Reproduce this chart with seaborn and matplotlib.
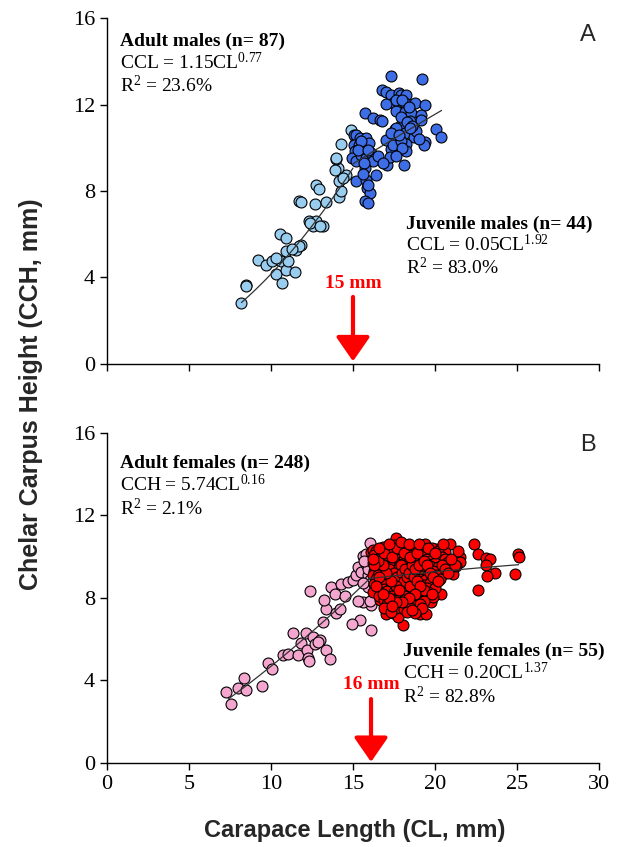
import numpy as np
import pandas as pd
import seaborn as sns
import matplotlib.pyplot as plt

# ---- data (CL, CCH in mm) ----
jm_pts = [(8.19, 2.82), (8.50, 3.67), (8.45, 3.62), (9.19, 4.82), (9.72, 4.56),
          (10.06, 4.78), (10.33, 4.16), (10.65, 3.74), (10.63, 4.75), (10.93, 4.36),
          (11.04, 4.75), (10.53, 6.01), (10.89, 5.82), (10.93, 5.21), (11.46, 4.25),
          (11.54, 5.29), (11.85, 5.52), (11.71, 5.44), (12.30, 6.59), (12.56, 6.36),
          (12.72, 6.63), (13.17, 6.36), (11.71, 7.52), (11.85, 7.47), (12.66, 7.40),
          (13.33, 7.49), (12.76, 8.29), (12.91, 8.09), (14.15, 7.70), (14.25, 7.98),
          (14.59, 8.75), (14.15, 8.47), (14.09, 9.06), (13.98, 9.49), (13.88, 8.98),
          (14.90, 10.83), (14.29, 10.17), (13.95, 9.54), (10.30, 4.90), (11.30, 5.30),
          (12.40, 6.50), (13.00, 6.40), (14.40, 8.60), (15.20, 10.30)]

am_pts = [(17.30, 13.30), (19.19, 13.19), (16.79, 12.68), (17.03, 12.57), (17.34, 12.45),
          (17.78, 12.53), (17.95, 12.42), (18.25, 12.42), (17.44, 12.06), (17.03, 12.02),
          (17.85, 11.99), (18.15, 12.06), (18.76, 12.05), (19.37, 11.96), (17.64, 11.71),
          (18.15, 11.65), (18.56, 11.60), (19.17, 11.53), (19.13, 11.29), (15.71, 11.60),
          (16.22, 11.37), (16.63, 11.29), (16.79, 11.25), (18.46, 11.25), (17.95, 11.03),
          (17.54, 10.88), (17.64, 10.91), (18.15, 10.68), (18.70, 10.52), (20.08, 10.88),
          (20.39, 10.48), (17.74, 10.45), (17.24, 10.37), (16.99, 10.37), (17.50, 9.98),
          (17.34, 9.95), (18.25, 10.17), (18.25, 9.83), (19.37, 10.26), (19.31, 10.11),
          (15.04, 10.60), (15.20, 10.60), (15.41, 10.45), (15.81, 10.45), (15.04, 10.14),
          (15.37, 10.14), (15.10, 9.83), (14.96, 9.52), (15.20, 9.37), (15.51, 9.68),
          (15.81, 9.52), (16.12, 9.75), (16.22, 9.40), (15.71, 9.06), (15.65, 9.29),
          (16.38, 8.75), (15.16, 8.44), (15.81, 8.52), (15.85, 8.14), (16.02, 7.90),
          (15.71, 7.52), (15.91, 7.44), (17.07, 9.21), (18.09, 9.21), (17.24, 9.55),
          (17.44, 10.14), (17.95, 10.29), (18.86, 10.76), (17.6, 12.2), (18.0, 12.2),
          (18.4, 11.9), (17.9, 11.4), (18.3, 11.2), (18.6, 11.0), (17.3, 10.7),
          (17.8, 10.6), (18.0, 10.0), (17.6, 9.6), (16.0, 10.2), (15.5, 10.3),
          (15.3, 9.9), (15.9, 9.9), (16.5, 9.6), (15.6, 8.8), (15.9, 8.3),
          (16.8, 9.3), (19.0, 10.4), (18.5, 10.9)]

jf_pts = [(7.28, 3.44), (7.58, 2.88), (7.99, 3.63), (8.33, 4.12), (8.50, 3.55),
          (9.47, 3.73), (9.82, 4.86), (10.06, 4.57), (10.73, 5.22), (11.04, 5.30),
          (11.34, 6.30), (11.65, 5.22), (11.85, 5.82), (12.11, 6.30), (12.20, 5.46),
          (12.26, 5.10), (12.32, 4.94), (12.56, 6.11), (12.66, 5.75), (12.97, 5.94),
          (12.87, 5.86), (13.17, 6.83), (13.37, 7.48), (13.21, 7.88), (13.33, 5.46),
          (13.62, 5.04), (12.40, 8.34), (13.68, 8.53), (13.88, 8.21), (13.98, 7.27),
          (14.19, 7.45), (14.49, 8.09), (14.29, 8.69), (14.70, 8.77), (15.00, 8.89),
          (15.20, 9.10), (15.30, 9.50), (15.51, 9.26), (15.61, 10.02), (15.81, 9.66),
          (15.81, 10.15), (15.91, 9.10), (16.06, 10.66), (16.12, 7.64), (15.61, 7.80),
          (16.02, 7.84), (15.30, 7.84), (15.41, 6.91), (14.96, 6.72), (16.12, 6.46),
          (15.91, 8.53), (16.02, 8.85), (15.61, 8.72), (15.9, 9.4), (15.7, 9.8)]

af_pts = [
    # scattered outliers
    (17.64, 10.92), (20.93, 10.63), (22.36, 10.63), (22.62, 10.15), (23.13, 9.95),
    (23.33, 9.90), (23.13, 9.58), (23.64, 9.21), (23.17, 9.05), (25.06, 10.15),
    (25.12, 9.98), (24.86, 9.14), (22.62, 8.37), (21.50, 9.98), (21.50, 9.74),
    (21.10, 9.14), (20.39, 8.21), (18.05, 6.67), (17.03, 7.24), (19.07, 7.24),
    (19.43, 7.21), (19.78, 7.80), (19.88, 8.05), (16.12, 10.23), (16.22, 10.31),
    (16.63, 7.88), (17.44, 7.27), (17.74, 7.08), (20.08, 10.39), (20.59, 10.23),
    (20.69, 9.82), (20.28, 9.50), (20.49, 9.18),
    # dense cluster
    (16.8, 10.45), (17.5, 10.55), (18.2, 10.5), (18.9, 10.48), (19.4, 10.6), (19.8, 10.4),
    (16.4, 10.3), (17.0, 10.35), (17.6, 10.25), (18.0, 10.32), (18.6, 10.28), (19.1, 10.35),
    (19.6, 10.22), (20.2, 10.3),
    (16.3, 10.1), (16.7, 10.05), (17.2, 10.12), (17.8, 10.08), (18.3, 10.15), (18.8, 10.02),
    (19.3, 10.1), (19.9, 10.05), (20.4, 10.0),
    (16.5, 9.9), (16.9, 9.95), (17.4, 9.85), (17.9, 9.92), (18.1, 9.88), (18.5, 9.95),
    (19.0, 9.85), (19.5, 9.9), (19.8, 9.82), (20.6, 9.9),
    (16.2, 9.7), (16.6, 9.72), (17.1, 9.68), (17.5, 9.75), (17.7, 9.65), (18.2, 9.7),
    (18.4, 9.75), (18.8, 9.68), (19.2, 9.72), (19.6, 9.65), (20.0, 9.7), (20.8, 9.75),
    (16.4, 9.5), (16.8, 9.45), (17.0, 9.55), (17.3, 9.5), (17.8, 9.52), (18.0, 9.45),
    (18.3, 9.55), (18.6, 9.48), (18.9, 9.52), (19.4, 9.45), (19.7, 9.55), (20.2, 9.5), (21.3, 9.55),
    (16.3, 9.3), (16.7, 9.28), (17.1, 9.32), (17.4, 9.25), (17.6, 9.35), (17.9, 9.3),
    (18.2, 9.28), (18.4, 9.35), (18.7, 9.3), (19.1, 9.25), (19.5, 9.32), (19.9, 9.3), (20.7, 9.35),
    (16.2, 9.1), (16.5, 9.12), (16.9, 9.08), (17.2, 9.1), (17.5, 9.15), (17.8, 9.05),
    (18.0, 9.12), (18.3, 9.1), (18.5, 9.05), (18.8, 9.15), (19.2, 9.08), (19.6, 9.1), (20.1, 9.12),
    (16.4, 8.9), (16.8, 8.88), (17.0, 8.95), (17.3, 8.9), (17.7, 8.85), (18.1, 8.92),
    (18.3, 8.88), (18.6, 8.95), (19.0, 8.9), (19.4, 8.85), (19.8, 8.92), (20.3, 8.9),
    (16.3, 8.7), (16.6, 8.72), (17.0, 8.68), (17.4, 8.7), (17.8, 8.75), (18.2, 8.68),
    (18.5, 8.72), (18.9, 8.7), (19.3, 8.65), (19.7, 8.72),
    (16.5, 8.5), (16.9, 8.45), (17.3, 8.52), (17.6, 8.48), (18.0, 8.5), (18.4, 8.45),
    (18.7, 8.55), (19.1, 8.5), (19.5, 8.48), (20.0, 8.5),
    (16.2, 8.3), (16.7, 8.28), (17.1, 8.32), (17.5, 8.3), (17.9, 8.25), (18.3, 8.3),
    (18.8, 8.32), (19.2, 8.28), (19.6, 8.3),
    (16.6, 8.1), (17.0, 8.05), (17.4, 8.12), (17.8, 8.1), (18.2, 8.08), (18.6, 8.12),
    (19.0, 8.05), (19.4, 8.1),
    (16.9, 7.9), (17.3, 7.85), (17.7, 7.92), (18.1, 7.9), (18.5, 7.88), (18.9, 7.9), (19.3, 7.85),
    (17.1, 7.7), (17.5, 7.68), (17.9, 7.72), (18.3, 7.7), (18.7, 7.65), (19.1, 7.7),
    (16.9, 7.5), (17.6, 7.5), (18.1, 7.48), (18.5, 7.52), (19.2, 7.5),
    (17.3, 7.3), (18.3, 7.32), (18.8, 7.28),
    (17.2, 9.4), (17.5, 9.2), (17.7, 9.0), (17.9, 9.6), (18.0, 9.2), (18.1, 8.8),
    (18.2, 9.4), (18.3, 9.0), (18.4, 9.2), (18.5, 8.6), (18.6, 9.6), (18.7, 9.0),
    (18.8, 9.4), (18.9, 8.8), (19.0, 9.6), (17.6, 8.6), (17.8, 8.4), (17.3, 8.8),
    (17.0, 9.2), (16.8, 9.6), (16.6, 9.0), (16.5, 9.8), (16.9, 10.2), (17.4, 10.0),
    (17.7, 10.4), (18.1, 10.2), (18.5, 10.0), (18.9, 10.2), (19.3, 9.8), (19.5, 9.6),
    (19.7, 9.2), (19.9, 9.0), (20.2, 8.8), (19.3, 8.4), (19.1, 8.6), (18.8, 8.2),
    (18.4, 8.0), (18.0, 7.8), (17.6, 7.8), (17.2, 8.0), (16.8, 8.2), (16.4, 8.6),
    (16.3, 9.6), (16.2, 9.9), (16.6, 10.4), (17.2, 10.6), (17.9, 10.7), (18.4, 10.6),
    (19.0, 10.6), (19.6, 10.4), (20.0, 10.2), (20.4, 9.6), (20.6, 9.4), (20.8, 9.2),
    (21.2, 9.6), (20.5, 10.6), (21.4, 10.3), (21.0, 9.9), (19.8, 8.2), (17.4, 7.6), (18.6, 7.4)]

# fitted power curves a*CL^b (coefficients printed on the figure) and their CL ranges
fit_males = [(0.05, 1.92, 8.2, 15.0), (1.15, 0.77, 15.0, 20.4)]
fit_females = [(0.20, 1.37, 7.4, 16.0), (5.74, 0.16, 16.0, 25.1)]

def to_df(pts):
    return pd.DataFrame(pts, columns=["CL", "CCH"])

sns.set_style("ticks")
plt.rcParams["font.family"] = ["Liberation Serif", "DejaVu Serif"]
plt.rcParams["mathtext.fontset"] = "custom"
plt.rcParams["mathtext.rm"] = "Liberation Serif"
plt.rcParams["mathtext.it"] = "Liberation Serif:italic"
plt.rcParams["mathtext.bf"] = "Liberation Serif:bold"

fig = plt.figure(figsize=(6.17, 8.47), dpi=100)
axA = fig.add_axes([0.1734, 0.5703, 0.7974, 0.4084])
axB = fig.add_axes([0.1734, 0.0992, 0.7974, 0.3896])

def panel(ax, juv, adu, juv_col, adu_col, fits):
    sns.scatterplot(data=to_df(juv), x="CL", y="CCH", ax=ax, color=juv_col,
                    edgecolor="black", linewidth=0.8, s=62, zorder=2)
    sns.scatterplot(data=to_df(adu), x="CL", y="CCH", ax=ax, color=adu_col,
                    edgecolor="black", linewidth=0.8, s=62, zorder=3)
    for a, b, x0, x1 in fits:
        xs = np.linspace(x0, x1, 50)
        sns.lineplot(x=xs, y=a * xs ** b, ax=ax, color="#333333", lw=0.9, zorder=4)
    ax.set_xlim(0, 30)
    ax.set_ylim(0, 16)
    ax.set_xticks(range(0, 31, 5))
    ax.set_yticks(range(0, 17, 4))
    ax.set_xlabel("")
    ax.set_ylabel("")
    sns.despine(ax=ax)
    ax.tick_params(direction="out", length=5, width=1, labelsize=16, colors="black")
    for sp in ["left", "bottom"]:
        ax.spines[sp].set_color("black")
        ax.spines[sp].set_linewidth(1)

panel(axA, jm_pts, am_pts, "#99cdf0", "#3d6ee6", fit_males)
panel(axB, jf_pts, af_pts, "#f5a6cf", "#ff0000", fit_females)
axA.set_xticklabels([])

txt = dict(fontsize=14, color="black")
# panel A labels
axA.text(0.82, 14.7, "Adult males (n= 87)", fontweight="bold", **txt)
axA.text(0.82, 13.62, r"CCL = 1.15CL$^{0.77}$", **txt)
axA.text(0.82, 12.59, r"R$^{2}$ = 23.6%", **txt)
axA.text(18.24, 6.26, "Juvenile males (n= 44)", fontweight="bold", **txt)
axA.text(18.24, 5.21, r"CCL = 0.05CL$^{1.92}$", **txt)
axA.text(18.24, 4.17, r"R$^{2}$ = 83.0%", **txt)
axA.text(29.8, 15.2, "A", ha="right", va="center", fontsize=17,
         family="Liberation Sans")
axA.text(15, 3.52, "15 mm", ha="center", color="red", fontsize=14, fontweight="bold")
axA.annotate("", xy=(15, 0.12), xytext=(15, 3.1),
             arrowprops=dict(arrowstyle="-|>,head_width=0.45,head_length=0.65",
                             color="red", lw=3, mutation_scale=23, shrinkA=0, shrinkB=0))

# panel B labels
axB.text(0.82, 14.29, "Adult females (n= 248)", fontweight="bold", **txt)
axB.text(0.82, 13.16, r"CCH = 5.74CL$^{0.16}$", **txt)
axB.text(0.82, 12.02, r"R$^{2}$ = 2.1%", **txt)
axB.text(18.05, 5.18, "Juvenile females (n= 55)", fontweight="bold", **txt)
axB.text(18.05, 4.05, r"CCH = 0.20CL$^{1.37}$", **txt)
axB.text(18.05, 2.91, r"R$^{2}$ = 82.8%", **txt)
axB.text(29.8, 15.4, "B", ha="right", va="center", fontsize=17,
         family="Liberation Sans")
axB.text(16.1, 3.61, "16 mm", ha="center", color="red", fontsize=14, fontweight="bold")
axB.annotate("", xy=(16.1, 0.05), xytext=(16.1, 3.1),
             arrowprops=dict(arrowstyle="-|>,head_width=0.45,head_length=0.65",
                             color="red", lw=3, mutation_scale=23, shrinkA=0, shrinkB=0))

fig.text(0.05, 0.535, "Chelar Carpus Height (CCH, mm)", rotation=90, ha="center",
         va="center", fontsize=18, fontweight="bold", family="Liberation Sans")
fig.text(0.575, 0.019, "Carapace Length (CL, mm)", ha="center", va="center",
         fontsize=17, fontweight="bold", family="Liberation Sans")

fig.savefig("out.png", dpi=100)
